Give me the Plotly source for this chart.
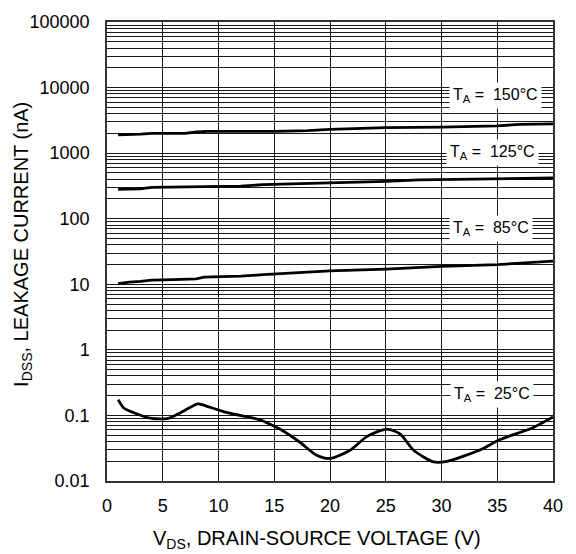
import plotly.graph_objects as go

# ---- data ----
x_150 = [1, 2, 3, 4, 7, 8, 9, 15, 18, 20, 25, 30, 35, 37, 40]
y_150 = [1900, 1900, 1950, 2000, 2000, 2100, 2150, 2150, 2200, 2300, 2450, 2500, 2600, 2750, 2800]

x_125 = [1, 2, 3, 4, 8, 12, 14, 17, 20, 25, 28, 30, 35, 38, 40]
y_125 = [280, 280, 285, 300, 310, 315, 330, 340, 350, 370, 390, 395, 400, 415, 420]

x_85 = [1, 2, 3, 4, 6, 8, 8.7, 12, 14, 17, 20, 25, 27, 30, 35, 40]
y_85 = [10.2, 10.8, 11.1, 11.6, 11.8, 12.1, 12.9, 13.3, 14, 15, 16, 17, 17.7, 18.7, 20, 22.5]

x_25 = [1, 1.5, 2.3, 4, 5.5, 6.6, 8.1, 8.4, 10.8, 13.8, 14.9, 15.5, 17.3, 18.8, 20,
        21.8, 23.3, 25.1, 26.3, 27.5, 29.3, 30.5, 33.5, 35.2, 38.2, 40]
y_25 = [0.174, 0.130, 0.112, 0.090, 0.090, 0.11, 0.150, 0.148, 0.110, 0.085, 0.0695, 0.062,
        0.039, 0.0247, 0.0221, 0.0294, 0.0475, 0.062, 0.052, 0.0294, 0.0196, 0.020, 0.030,
        0.0425, 0.065, 0.0946]

y_tickvals = [0.01, 0.1, 1, 10, 100, 1000, 10000, 100000]
y_ticktext = ["0.01", "0.1", "1", "10", "100", "1000", "10000", "100000"]
x_tickvals = [0, 5, 10, 15, 20, 25, 30, 35, 40]

labels = ["T<sub>A</sub> =  150°C", "T<sub>A</sub> =  125°C", "T<sub>A</sub> =  85°C", "T<sub>A</sub> =  25°C"]

FONT = "Liberation Sans, Arial, sans-serif"

fig = go.Figure()
for xs, ys, shape in [(x_150, y_150, "linear"), (x_125, y_125, "linear"),
                      (x_85, y_85, "linear"), (x_25, y_25, "spline")]:
    fig.add_trace(go.Scatter(x=xs, y=ys, mode="lines",
                             line=dict(color="black", width=2.8, shape=shape, smoothing=0.7),
                             showlegend=False, hoverinfo="skip"))

# label positions (x in data, y in log10 units)
label_pos = [(34.8, 3.879), (34.6, 3.012), (34.4, 1.846), (34.5, -0.68)]
for txt, (lx, ly) in zip(labels, label_pos):
    fig.add_annotation(x=lx, y=ly, xref="x", yref="y", text=txt, showarrow=False,
                       bgcolor="white", borderpad=3,
                       font=dict(family=FONT, size=16, color="black"))

fig.add_annotation(xref="paper", yref="paper", x=0.471, y=-0.128,
                   xanchor="center", yanchor="middle",
                   text="V<sub>DS</sub>, DRAIN-SOURCE VOLTAGE (V)", showarrow=False,
                   font=dict(family=FONT, size=20, color="black"))
fig.add_annotation(xref="paper", yref="paper", x=-0.19, y=0.515, textangle=-90,
                   xanchor="center", yanchor="middle",
                   text="I<sub>DSS</sub>, LEAKAGE CURRENT (nA)", showarrow=False,
                   font=dict(family=FONT, size=20, color="black"))

grid_col = "#1a1a1a"
fig.update_xaxes(range=[0, 40], tickvals=x_tickvals, ticks="", showgrid=True,
                 gridcolor=grid_col, gridwidth=1, zeroline=False,
                 showline=True, linecolor="#333", linewidth=1.5, mirror=True,
                 ticklabelstandoff=8,
                 tickfont=dict(family=FONT, size=18, color="black"))
fig.update_yaxes(type="log", range=[-2, 5], tickvals=y_tickvals, ticktext=y_ticktext,
                 ticks="", showgrid=True, gridcolor=grid_col, gridwidth=1,
                 minor=dict(dtick="D1", showgrid=True, gridcolor=grid_col, gridwidth=1, ticks=""),
                 zeroline=False, showline=True, linecolor="#333", linewidth=1.5, mirror=True,
                 ticklabelstandoff=12,
                 tickfont=dict(family=FONT, size=18, color="black"))

fig.update_layout(width=576, height=554, margin=dict(l=107, r=23, t=13, b=73),
                  plot_bgcolor="white", paper_bgcolor="white")

fig.write_html("out.html")
